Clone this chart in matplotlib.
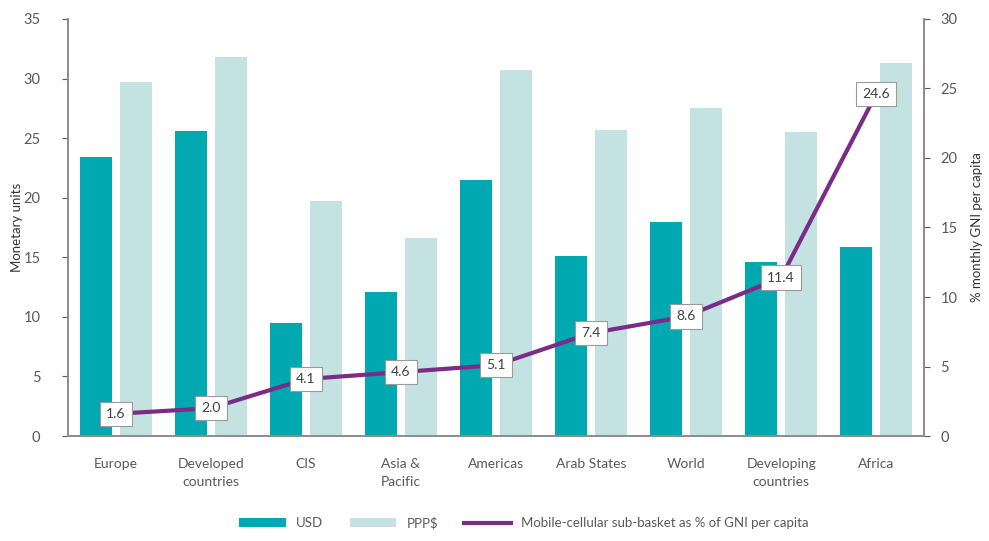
import matplotlib.pyplot as plt
import numpy as np

regions = ['Europe', 'Developed\ncountries', 'CIS', 'Asia &\nPacific', 'Americas',
           'Arab States', 'World', 'Developing\ncountries', 'Africa']
usd = [23.4, 25.6, 9.5, 12.1, 21.5, 15.1, 18.0, 14.6, 15.9]
ppp = [29.7, 31.8, 19.7, 16.6, 30.7, 25.7, 27.5, 25.5, 31.3]
gni_pct = [1.6, 2.0, 4.1, 4.6, 5.1, 7.4, 8.6, 11.4, 24.6]

plt.rcParams['font.family'] = ['Lato', 'DejaVu Sans']
grey = '#595959'

fig = plt.figure(figsize=(9.89, 5.41), dpi=100)
ax = fig.add_axes([0.069, 0.194, 0.865, 0.771])
x = np.arange(len(regions))
w = 0.34

ax.bar(x - 0.21, usd, w, color='#00A9B1', label='USD')
ax.bar(x + 0.21, ppp, w, color='#C4E2E2', label='PPP$')
ax.set_xlim(-0.5, len(regions) - 0.5)
ax.set_ylim(0, 35)
ax.set_yticks(range(0, 36, 5))
ax.set_xticks(x)
ax.set_xticklabels(regions, color=grey, fontsize=10, linespacing=1.6)
ax.tick_params(axis='x', length=0, pad=16)
ax.tick_params(axis='y', colors=grey, labelsize=10.5, length=4, pad=16)
ax.set_ylabel('Monetary units', color='#333333', fontsize=9.5, labelpad=0)

ax2 = ax.twinx()
line, = ax2.plot(x, gni_pct, color='#7B2B88', lw=3,
                 label='Mobile-cellular sub-basket as % of GNI per capita')
ax2.set_ylim(0, 30)
ax2.set_yticks(range(0, 31, 5))
ax2.tick_params(axis='y', colors=grey, labelsize=10.5, length=4, pad=8)
ax2.set_ylabel('% monthly GNI per capita', color='#333333', fontsize=9.5, labelpad=10)

# value boxes sitting on the line points
for xi, v in zip(x, gni_pct):
    ax2.text(xi, v, f'{v:.1f}', ha='center', va='center', fontsize=10, color='#404040',
             bbox=dict(boxstyle='square,pad=0.45', fc='white', ec='#9a9a9a', lw=0.8))

for a in (ax, ax2):
    a.spines['top'].set_visible(False)
    for s in ('left', 'right', 'bottom'):
        a.spines[s].set_color('#8c8c8c')
        a.spines[s].set_linewidth(1.2)

handles = [ax.containers[0], ax.containers[1], line]
fig.legend(handles, [h.get_label() for h in handles], loc='lower center',
           bbox_to_anchor=(0.53, 0.0), ncol=3, frameon=False, fontsize=9.5,
           labelcolor=grey, handlelength=3.5, columnspacing=2.0)

fig.savefig('out.png', dpi=100)
